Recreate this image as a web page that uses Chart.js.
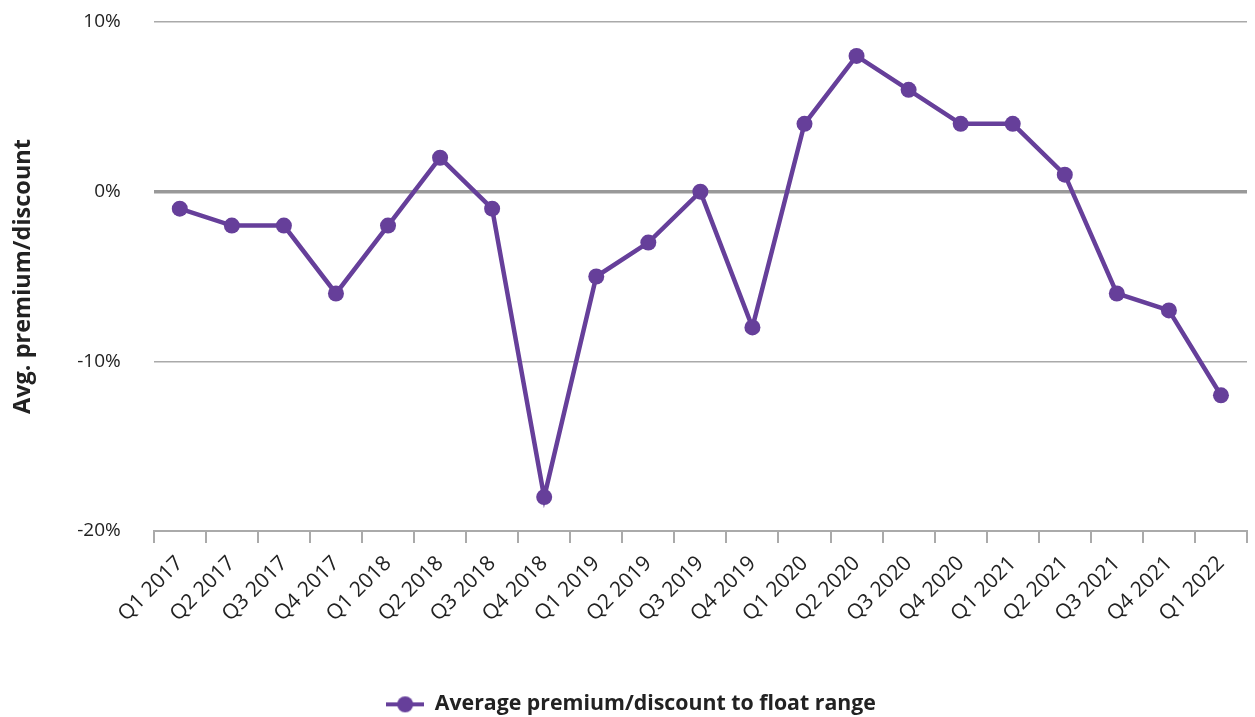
<!DOCTYPE html>
<html>
<head>
<meta charset="utf-8">
<script src="https://cdn.jsdelivr.net/npm/chart.js@4"></script>
<style>
  html, body { margin: 0; padding: 0; background: #fff; }
  #wrap { width: 1255px; height: 717px; }
</style>
</head>
<body>
<div id="wrap"><canvas id="premiumChart"></canvas></div>
<script>
const quarters = ["Q1 2017", "Q2 2017", "Q3 2017", "Q4 2017", "Q1 2018", "Q2 2018", "Q3 2018", "Q4 2018",
  "Q1 2019", "Q2 2019", "Q3 2019", "Q4 2019", "Q1 2020", "Q2 2020", "Q3 2020", "Q4 2020",
  "Q1 2021", "Q2 2021", "Q3 2021", "Q4 2021", "Q1 2022"];
const avgPremium = [-1, -2, -2, -6, -2, 2, -1, -18, -5, -3, 0, -8, 4, 8, 6, 4, 4, 1, -6, -7, -12];
const yTicks = [-20, -10, 0, 10];

const purple = "#663f9a";
const font = "'Open Sans', sans-serif";

// legend marker: short line with a dot in the middle
const marker = document.createElement("canvas");
marker.width = 38;
marker.height = 18;
const mctx = marker.getContext("2d");
mctx.strokeStyle = purple;
mctx.lineWidth = 4;
mctx.beginPath();
mctx.moveTo(0, 9);
mctx.lineTo(38, 9);
mctx.stroke();
mctx.fillStyle = purple;
mctx.beginPath();
mctx.arc(19, 9, 8, 0, Math.PI * 2);
mctx.fill();

const ctx = document.getElementById("premiumChart");

new Chart(ctx, {
  type: "line",
  data: {
    labels: quarters,
    datasets: [
      {
        label: "Average premium/discount to float range",
        data: avgPremium,
        borderColor: purple,
        backgroundColor: purple,
        borderWidth: 4.5,
        pointStyle: "circle",
        pointRadius: 8,
        pointHoverRadius: 8,
        pointBackgroundColor: purple,
        pointBorderWidth: 0,
        tension: 0,
      },
    ],
  },
  options: {
    responsive: true,
    maintainAspectRatio: false,
    animation: false,
    layout: { padding: { top: 22, right: 2, left: 9, bottom: -8 } },
    plugins: {
      tooltip: { enabled: false },
      legend: {
        position: "bottom",
        labels: {
          usePointStyle: true,
          pointStyle: marker,
          pointStyleWidth: 38,
          color: "#222",
          font: { family: font, size: 21.3, weight: "bold", lineHeight: 1 },
          padding: 0,
        },
      },
    },
    scales: {
      x: {
        offset: true,
        grid: {
          offset: true,
          drawOnChartArea: false,
          drawTicks: true,
          tickLength: 12,
          tickColor: "#aaa",
          lineWidth: 2,
        },
        border: { display: true, color: "#aaa", width: 2 },
        ticks: {
          color: "#222",
          font: { family: font, size: 21 },
          maxRotation: 45,
          minRotation: 45,
          padding: 8,
        },
        // blank title only keeps the gap above the legend
        title: {
          display: true,
          text: " ",
          font: { size: 10 },
          padding: { top: 23, bottom: 24 },
        },
      },
      y: {
        min: -20,
        max: 10,
        afterBuildTicks: (axis) => {
          axis.ticks = yTicks.map((v) => ({ value: v }));
        },
        afterFit: (axis) => {
          axis.paddingTop = 0;
        },
        border: { display: false },
        grid: {
          drawTicks: false,
          color: (c) => (c.tick && c.tick.value === 0 ? "#999" : "#aaa"),
          lineWidth: (c) => (c.tick && c.tick.value === 0 ? 3.5 : 1.5),
        },
        ticks: {
          color: "#222",
          font: { family: font, size: 19 },
          padding: 33,
          callback: (v) => v + "%",
        },
        title: {
          display: true,
          text: "Avg. premium/discount",
          color: "#222",
          font: { family: font, size: 23.5, weight: "bold" },
          padding: { top: 0, bottom: 7 },
        },
      },
    },
  },
});
</script>
</body>
</html>
